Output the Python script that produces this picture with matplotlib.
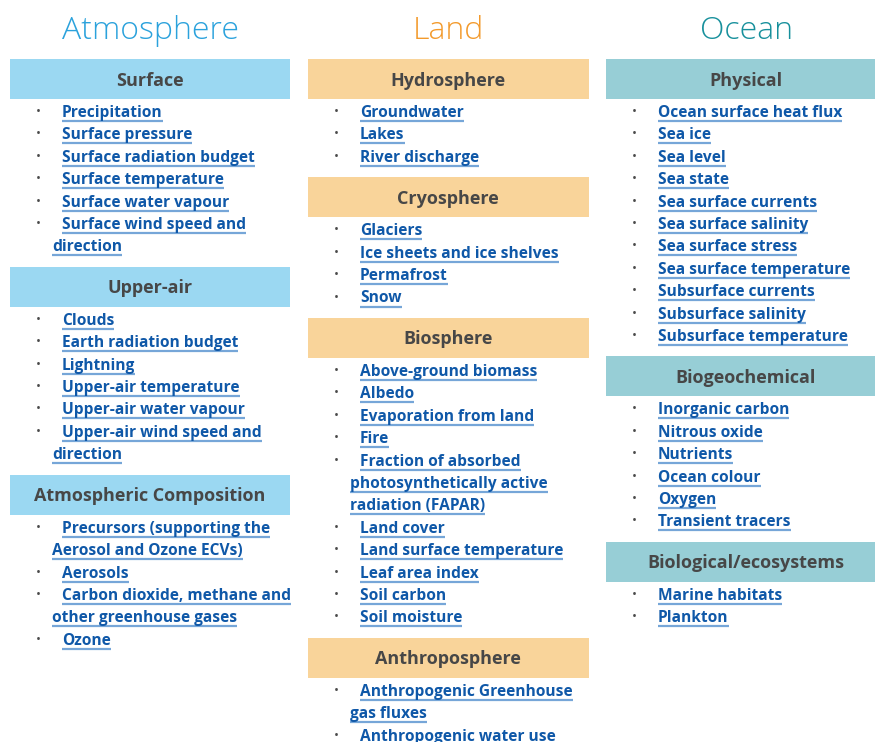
import matplotlib
matplotlib.use("Agg")
import matplotlib.pyplot as plt
from matplotlib.patches import Rectangle

plt.rcParams['font.family'] = ['Open Sans', 'DejaVu Sans']

# column titles and colours
columns = ["Atmosphere", "Land", "Ocean"]
title_colors = ["#2ba2dc", "#f39a2c", "#17909c"]
box_colors = ["#9bd8f2", "#f9d49a", "#97ced6"]

# groups per column, items per group ("\n" marks where the link wraps)
atmosphere_groups = ["Surface", "Upper-air", "Atmospheric Composition"]
atmosphere_items = [
    ["Precipitation", "Surface pressure", "Surface radiation budget",
     "Surface temperature", "Surface water vapour",
     "Surface wind speed and\ndirection"],
    ["Clouds", "Earth radiation budget", "Lightning", "Upper-air temperature",
     "Upper-air water vapour", "Upper-air wind speed and\ndirection"],
    ["Precursors (supporting the\nAerosol and Ozone ECVs)", "Aerosols",
     "Carbon dioxide, methane and\nother greenhouse gases", "Ozone"],
]
land_groups = ["Hydrosphere", "Cryosphere", "Biosphere", "Anthroposphere"]
land_items = [
    ["Groundwater", "Lakes", "River discharge"],
    ["Glaciers", "Ice sheets and ice shelves", "Permafrost", "Snow"],
    ["Above-ground biomass", "Albedo", "Evaporation from land", "Fire",
     "Fraction of absorbed\nphotosynthetically active\nradiation (FAPAR)",
     "Land cover", "Land surface temperature", "Leaf area index",
     "Soil carbon", "Soil moisture"],
    ["Anthropogenic Greenhouse\ngas fluxes", "Anthropogenic water use"],
]
ocean_groups = ["Physical", "Biogeochemical", "Biological/ecosystems"]
ocean_items = [
    ["Ocean surface heat flux", "Sea ice", "Sea level", "Sea state",
     "Sea surface currents", "Sea surface salinity", "Sea surface stress",
     "Sea surface temperature", "Subsurface currents", "Subsurface salinity",
     "Subsurface temperature"],
    ["Inorganic carbon", "Nitrous oxide", "Nutrients", "Ocean colour",
     "Oxygen", "Transient tracers"],
    ["Marine habitats", "Plankton"],
]

all_groups = [atmosphere_groups, land_groups, ocean_groups]
all_items = [atmosphere_items, land_items, ocean_items]

W, H = 875, 742
fig = plt.figure(figsize=(W / 100, H / 100), dpi=100)
ax = fig.add_axes([0, 0, 1, 1])
ax.set_xlim(0, W)
ax.set_ylim(H, 0)
ax.axis("off")

col_left = [10, 308, 606]
col_width = [280, 281, 275]
box_h = 40
line_h = 22.4
link_color = "#0f58a8"
under_color = "#76a6d8"

links = []
for c, name in enumerate(columns):
    x0 = col_left[c]
    ax.text(x0 + 140, 31, name, fontsize=23, color=title_colors[c],
            ha="center", va="center", fontweight="light")
    top = 59
    for g, group in enumerate(all_groups[c]):
        ax.add_patch(Rectangle((x0, top), col_width[c], box_h,
                               facecolor=box_colors[c], edgecolor="none"))
        ax.text(x0 + 140, top + box_h / 2 + 1.5, group, fontsize=13,
                color="#474747", ha="center", va="center", fontweight="bold")
        y = top + box_h + 11.5
        for item in all_items[c][g]:
            lines = item.split("\n")
            ax.text(x0 + 28, y + 1, "\u2022", fontsize=9.5, color="#4a4a4a",
                    ha="center", va="center")
            for k, ln in enumerate(lines):
                tx = x0 + 52 if k == 0 else x0 + 42
                t = ax.text(tx, y + 2.5, ln, fontsize=11.2, color=link_color,
                            ha="left", va="center", fontweight="bold")
                links.append((t, y))
                y += line_h
        top = y - line_h + 22

# underline every link line
fig.canvas.draw()
inv = ax.transData.inverted()
for t, y in links:
    bb = t.get_window_extent()
    (xa, _), (xb, _) = inv.transform([[bb.x0, bb.y0], [bb.x1, bb.y1]])
    ax.plot([xa, xb], [y + 10.5, y + 10.5], color=under_color, lw=1.6,
            solid_capstyle="butt")

fig.savefig("out.png", dpi=100)
